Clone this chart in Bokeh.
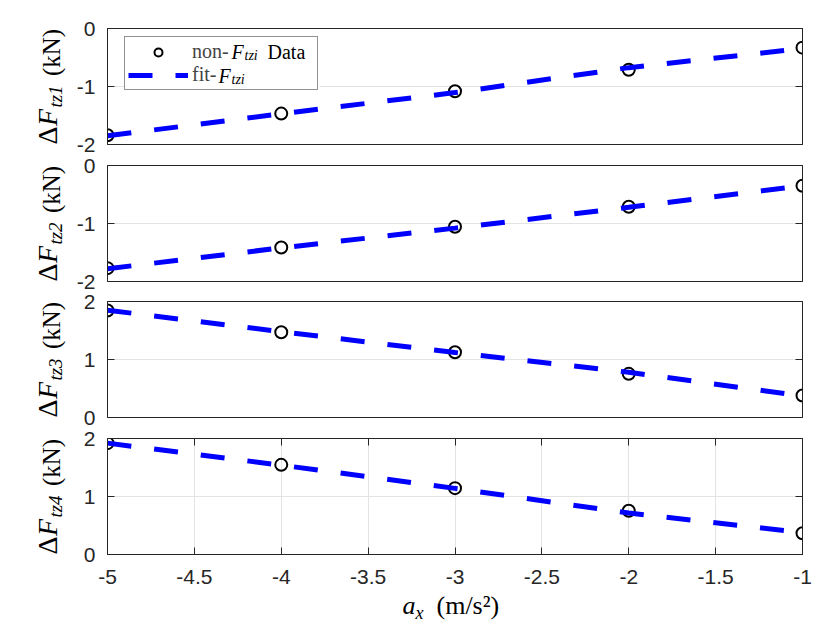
import math
from bokeh.plotting import figure
from bokeh.layouts import column, row
from bokeh.models import (FixedTicker, LinearAxis, Label, Legend, LegendItem, Range1d,
                          BoxAnnotation, Grid)
from bokeh.embed import file_html
from bokeh.resources import INLINE

# ---------------- data ----------------
ax = [-5, -4, -3, -2, -1]

data1 = [-1.84, -1.467, -1.083, -0.71, -0.33]
fit1 = [-1.85, -1.47, -1.105, -0.675, -0.345]

data2 = [-1.77, -1.414, -1.057, -0.712, -0.35]
fit2 = [-1.78, -1.42, -1.08, -0.72, -0.35]

data3 = [1.845, 1.47, 1.126, 0.753, 0.379]
fit3 = [1.85, 1.48, 1.12, 0.78, 0.37]

data4 = [1.92, 1.546, 1.144, 0.755, 0.366]
fit4 = [1.92, 1.54, 1.14, 0.715, 0.377]

x_ticks = [-5, -4.5, -4, -3.5, -3, -2.5, -2, -1.5, -1]
y_ticks_neg = [-2, -1, 0]
y_ticks_pos = [0, 1, 2]

panel_subs = ["tz1", "tz2", "tz3", "tz4"]
legend_names = ["non-", "fit-"]

AXC = "#262626"
GRID = "#e3e3e3"
SERIF = "Liberation Serif"
SANS = "Liberation Sans"

LAB_W = 66       # width of the strip holding the y-axis label
BORDER_L = 41
BORDER_R = 20
FRAME_W = 695
FRAME_H = 116


def strip(w, h, yr):
    f = figure(width=w, height=h, x_range=Range1d(0, w), y_range=Range1d(*yr),
               min_border=0, toolbar_location=None, output_backend="svg",
               x_axis_location=None, y_axis_location=None, title=None)
    f.outline_line_color = None
    f.background_fill_color = "white"
    for g in f.select(type=Grid):
        g.visible = False
    return f


def style_axis(a, ticks, labels=True, standoff=10):
    a.ticker = FixedTicker(ticks=ticks)
    a.major_tick_in = 7
    a.major_tick_out = 0
    a.minor_tick_line_color = None
    a.axis_line_color = AXC
    a.major_tick_line_color = AXC
    a.major_label_text_color = AXC
    if labels:
        a.major_label_overrides = {t: f"{t:g}" for t in ticks}
        a.major_label_text_font = SANS
        a.major_label_text_font_size = "21px"
        a.major_label_standoff = standoff
    else:
        a.major_label_overrides = {t: "" for t in ticks}
        a.major_label_standoff = 0


def make_panel(data, fit, yr, yticks, sub, top_b, bot_b, show_x, first):
    p = figure(frame_width=FRAME_W, frame_height=FRAME_H,
               x_range=Range1d(-5, -1), y_range=Range1d(*yr),
               x_axis_location="below" if show_x else None,
               output_backend="svg", toolbar_location=None,
               min_border_left=BORDER_L, min_border_right=BORDER_R,
               min_border_top=top_b, min_border_bottom=bot_b)
    p.outline_line_color = AXC
    p.outline_line_width = 1
    p.background_fill_color = "white"

    style_axis(p.yaxis[0], yticks, True, 12)
    p.ygrid.grid_line_color = GRID
    ry = LinearAxis()
    style_axis(ry, yticks, False)
    p.add_layout(ry, "right")

    if show_x:
        style_axis(p.xaxis[0], x_ticks, True, 15)
        p.xgrid.grid_line_color = GRID
        tx = LinearAxis()
        style_axis(tx, x_ticks, False)
        p.add_layout(tx, "above")
    else:
        p.xgrid.visible = False

    if first:
        # white patch under the (transparent) legend so the grid does not show through
        px_x = 4.0 / FRAME_W
        px_y = (yr[1] - yr[0]) / FRAME_H
        p.add_layout(BoxAnnotation(left=-5 + 17 * px_x, right=-5 + 212 * px_x,
                                   top=yr[1] - 8 * px_y, bottom=yr[1] - 62 * px_y,
                                   fill_color="white", fill_alpha=1.0, line_color=None,
                                   level="underlay"))

    r_pts = p.scatter(ax, data, marker="circle", size=12, line_color="black",
                      line_width=2, fill_color=None)
    r_fit = p.line(ax, fit, line_color="#0000ff", line_width=5,
                   line_dash="24 23", line_cap="butt")

    if first:
        legend = Legend(items=[LegendItem(label=legend_names[0], renderers=[r_pts]),
                               LegendItem(label=legend_names[1], renderers=[r_fit])],
                        location=(17, 54), margin=0, padding=3, spacing=0,
                        glyph_width=60, glyph_height=20, label_height=20,
                        label_width=122, label_standoff=4,
                        label_text_font=SERIF, label_text_font_size="20px",
                        border_line_color=AXC, border_line_width=1,
                        background_fill_alpha=0.0)
        p.add_layout(legend, "center")
        lc = dict(x=-5, y=yr[1], text_baseline="middle", text_align="left",
                  text_color="black", text_font=SERIF, level="overlay")
        p.add_layout(Label(text="F", x_offset=124, y_offset=-23, text_font_size="20px",
                           text_font_style="italic", **lc))
        p.add_layout(Label(text="tzi", x_offset=137, y_offset=-27, text_font_size="14px",
                           text_font_style="italic", **lc))
        p.add_layout(Label(text="Data", x_offset=160, y_offset=-23, text_font_size="20px", **lc))
        p.add_layout(Label(text="F", x_offset=111, y_offset=-47, text_font_size="20px",
                           text_font_style="italic", **lc))
        p.add_layout(Label(text="tzi", x_offset=124, y_offset=-51, text_font_size="14px",
                           text_font_style="italic", **lc))

    # strip with the rotated y label; its frame lines up with the panel frame
    h = top_b + FRAME_H + bot_b
    s = strip(LAB_W, h, yr)
    common = dict(y=yr[0], angle=math.pi / 2, text_align="center", text_baseline="middle",
                  text_color="black", text_font=SERIF)
    s.add_layout(Label(text="Δ", x=47, y_offset=9, text_font_size="28px", **common))
    s.add_layout(Label(text="F", x=47, y_offset=27, text_font_size="28px",
                       text_font_style="italic", **common))
    s.add_layout(Label(text=sub, x=55, y_offset=48, text_font_size="19px",
                       text_font_style="italic", **common))
    s.add_layout(Label(text="(kN)", x=51, y_offset=92, text_font_size="25px", **common))
    return row(s, p)


r1 = make_panel(data1, fit1, (-2, 0), y_ticks_neg, panel_subs[0], 28, 10, False, True)
r2 = make_panel(data2, fit2, (-2, 0), y_ticks_neg, panel_subs[1], 11, 10, False, False)
r3 = make_panel(data3, fit3, (0, 2), y_ticks_pos, panel_subs[2], 10, 10, False, False)
r4 = make_panel(data4, fit4, (0, 2), y_ticks_pos, panel_subs[3], 11, 35, True, False)

# strip with the x-axis label
XW = LAB_W + BORDER_L + FRAME_W + BORDER_R
xs = strip(XW, 32, (0, 32))
xc = dict(text_baseline="middle", text_align="left", text_color="black", text_font=SERIF)
xs.add_layout(Label(text="a", x=402, y=16, text_font_size="26px", text_font_style="italic", **xc))
xs.add_layout(Label(text="x", x=415, y=9, text_font_size="18px", text_font_style="italic", **xc))
xs.add_layout(Label(text="(m/s²)", x=436, y=16, text_font_size="26px", **xc))

layout = column(r1, r2, r3, r4, xs)
open("out.html", "w").write(file_html(layout, INLINE))
